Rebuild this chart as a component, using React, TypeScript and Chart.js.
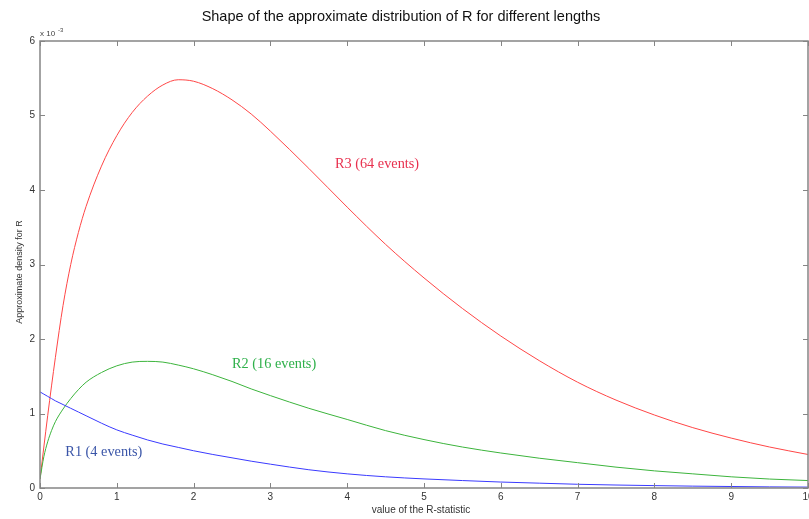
import React, { useEffect, useRef } from "react";
import { Chart, registerables } from "chart.js";

Chart.register(...registerables);

const TITLE = "Shape of the approximate distribution of R for different lengths";
const X_TITLE = "value of the R-statistic";
const Y_TITLE = "Approximate density for R";
const EXPONENT = "x 10";

const xs = [0, 0.05, 0.1, 0.15, 0.2, 0.3, 0.4, 0.5, 0.6, 0.8, 1.0, 1.2, 1.4, 1.6, 1.8, 2.0, 2.25, 2.5, 2.75, 3.0, 3.5, 4.0, 4.5, 5.0, 5.5, 6.0, 6.5, 7.0, 7.5, 8.0, 8.5, 9.0, 9.5, 10];

const r1 = [1.29, 1.26, 1.23, 1.2, 1.17, 1.12, 1.07, 1.02, 0.97, 0.87, 0.78, 0.71, 0.645, 0.59, 0.545, 0.5, 0.45, 0.405, 0.36, 0.32, 0.245, 0.19, 0.15, 0.122, 0.1, 0.08, 0.065, 0.05, 0.04, 0.032, 0.025, 0.02, 0.015, 0.012];

const r2 = [0.12, 0.42, 0.62, 0.77, 0.89, 1.06, 1.2, 1.32, 1.42, 1.55, 1.64, 1.69, 1.7, 1.69, 1.65, 1.6, 1.52, 1.43, 1.33, 1.24, 1.07, 0.92, 0.77, 0.65, 0.55, 0.47, 0.4, 0.34, 0.28, 0.23, 0.19, 0.15, 0.12, 0.1];

const r3 = [0.12, 0.55, 0.97, 1.37, 1.75, 2.45, 3.0, 3.43, 3.78, 4.32, 4.73, 5.04, 5.26, 5.41, 5.48, 5.46, 5.36, 5.21, 5.02, 4.79, 4.29, 3.77, 3.27, 2.82, 2.41, 2.04, 1.71, 1.42, 1.18, 0.98, 0.81, 0.67, 0.55, 0.45];

const labelTexts = ["R1 (4 events)", "R2 (16 events)", "R3 (64 events)"];
const labelX = [0.33, 2.5, 3.84];
const labelY = [0.48, 1.66, 4.34];
const labelColors = ["#3a55a8", "#2eb04a", "#e8304e"];

const xTicks = [0, 1, 2, 3, 4, 5, 6, 7, 8, 9, 10];
const yTicks = [0, 1, 2, 3, 4, 5, 6];

const toPoints = (ys: number[]) => xs.map((x, i) => ({ x, y: ys[i] }));

const framePlugin = {
  id: "frame",
  afterDraw(chart: any) {
    const { ctx, chartArea: a, scales } = chart;
    const xs_ = scales.x;
    const ys_ = scales.y;
    ctx.save();
    ctx.strokeStyle = "#858585";
    ctx.lineWidth = 1.5;
    ctx.strokeRect(a.left, a.top, a.right - a.left, a.bottom - a.top);
    ctx.beginPath();
    const tl = 5;
    xTicks.forEach((v) => {
      const px = Math.round(xs_.getPixelForValue(v)) + 0.5;
      ctx.moveTo(px, a.bottom);
      ctx.lineTo(px, a.bottom - tl);
      ctx.moveTo(px, a.top);
      ctx.lineTo(px, a.top + tl);
    });
    yTicks.forEach((v) => {
      const py = Math.round(ys_.getPixelForValue(v)) + 0.5;
      ctx.moveTo(a.left, py);
      ctx.lineTo(a.left + tl, py);
      ctx.moveTo(a.right, py);
      ctx.lineTo(a.right - tl, py);
    });
    ctx.lineWidth = 1;
    ctx.stroke();

    ctx.fillStyle = "#111";
    ctx.font = "14.5px 'Liberation Sans', Arial, sans-serif";
    ctx.textAlign = "center";
    ctx.textBaseline = "middle";
    ctx.fillText(TITLE, 401, 17);

    ctx.fillStyle = "#444";
    ctx.font = "8px 'Liberation Sans', Arial, sans-serif";
    ctx.textAlign = "left";
    ctx.textBaseline = "alphabetic";
    ctx.fillText(EXPONENT, 40, 36);
    ctx.font = "6px 'Liberation Sans', Arial, sans-serif";
    ctx.fillText("-3", 58, 32);

    ctx.fillStyle = "#333";
    ctx.font = "10px 'Liberation Sans', Arial, sans-serif";
    ctx.textAlign = "center";
    ctx.textBaseline = "middle";
    ctx.fillText(X_TITLE, 421, 510);
    ctx.save();
    ctx.translate(20, 272);
    ctx.rotate(-Math.PI / 2);
    ctx.font = "9px 'Liberation Sans', Arial, sans-serif";
    ctx.fillText(Y_TITLE, 0, 0);
    ctx.restore();

    ctx.font = "14.3px 'Liberation Serif', 'Times New Roman', serif";
    ctx.textAlign = "left";
    ctx.textBaseline = "middle";
    labelTexts.forEach((t, i) => {
      ctx.fillStyle = labelColors[i];
      ctx.fillText(t, xs_.getPixelForValue(labelX[i]), ys_.getPixelForValue(labelY[i]));
    });
    ctx.restore();
  },
};

export default function App() {
  const ref = useRef<HTMLCanvasElement | null>(null);
  useEffect(() => {
    document.body.style.margin = "0";
    const canvas = ref.current;
    if (!canvas) return;
    const ds = (label: string, ys: number[], color: string) => ({
      label,
      data: toPoints(ys),
      borderColor: color,
      borderWidth: 1,
      pointRadius: 0,
      cubicInterpolationMode: "monotone",
      fill: false,
    });
    const chart = new Chart(canvas, {
      type: "line",
      data: {
        datasets: [ds("R1", r1, "#3a3aff"), ds("R2", r2, "#3cb43c"), ds("R3", r3, "#ff4646")],
      },
      options: {
        responsive: false,
        animation: false,
        devicePixelRatio: 1,
        layout: { autoPadding: false, padding: { top: 41, right: 1, left: 0, bottom: 0 } },
        plugins: { legend: { display: false }, tooltip: { enabled: false }, title: { display: false } },
        scales: {
          x: {
            type: "linear",
            min: 0,
            max: 10,
            grid: { display: false, drawTicks: false },
            border: { display: false },
            ticks: {
              stepSize: 1,
              padding: 3,
              color: "#333",
              font: { family: "'Liberation Sans', Arial, sans-serif", size: 10 },
              maxRotation: 0,
            },
            afterFit: (s: any) => {
              s.height = 31;
              s.paddingLeft = 0;
              s.paddingRight = 0;
            },
          },
          y: {
            type: "linear",
            min: 0,
            max: 6,
            grid: { display: false, drawTicks: false },
            border: { display: false },
            ticks: {
              stepSize: 1,
              padding: 5,
              color: "#333",
              font: { family: "'Liberation Sans', Arial, sans-serif", size: 10 },
            },
            afterFit: (s: any) => {
              s.width = 40;
              s.paddingTop = 0;
              s.paddingBottom = 0;
            },
          },
        },
      } as any,
      plugins: [framePlugin],
    });
    return () => chart.destroy();
  }, []);
  return <canvas ref={ref} width={809} height={519} style={{ display: "block" }} />;
}
